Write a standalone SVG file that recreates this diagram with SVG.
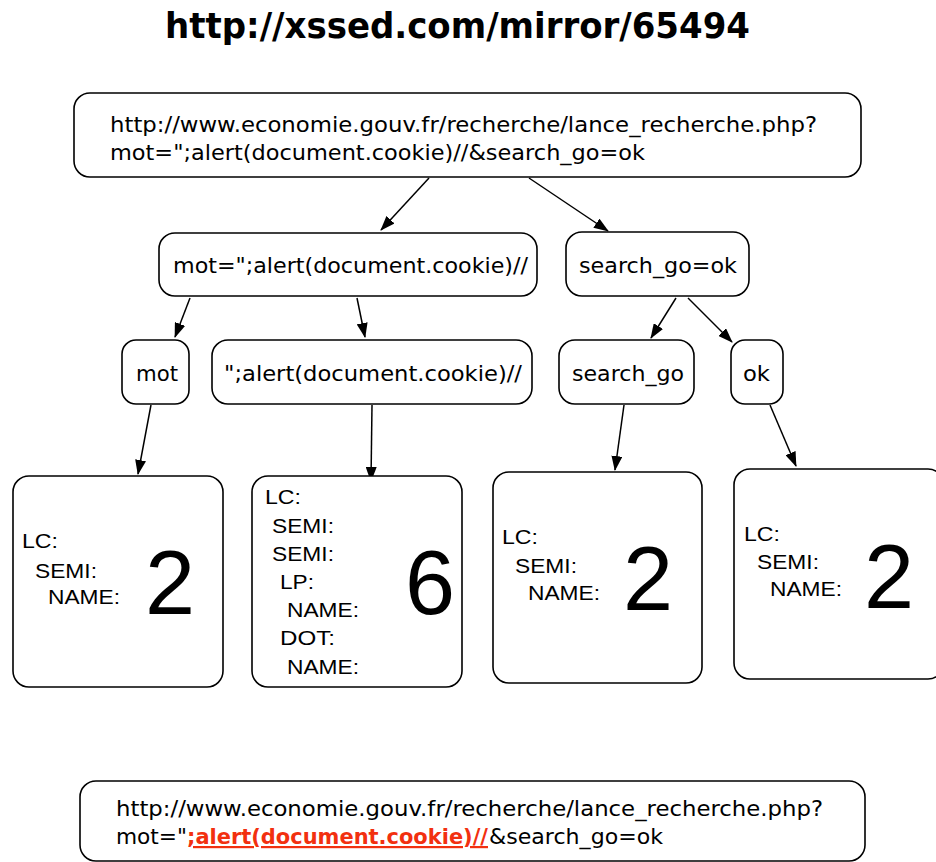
<svg xmlns="http://www.w3.org/2000/svg" width="936" height="862" viewBox="0 0 936 862">
<style>
.box{fill:#fff;stroke:#000;stroke-width:1.6}
.t{font-family:"DejaVu Sans",sans-serif;font-size:22px;fill:#000}
.l{font-family:"Liberation Sans",Arial,sans-serif;font-size:20.5px;fill:#000}
.big{font-family:"Liberation Sans",Arial,sans-serif;font-size:90px;fill:#000}
.title{font-family:"DejaVu Sans",sans-serif;font-weight:bold;font-size:35px;fill:#000}
.c line{stroke:#000;stroke-width:1.5;marker-end:url(#ah)}
.hl{font-family:"DejaVu Sans",sans-serif;font-size:22px;fill:#f2300f;font-weight:bold;text-decoration:underline}
</style>
<defs>
<marker id="ah" markerWidth="15" markerHeight="11" refX="14" refY="5.5" orient="auto" markerUnits="userSpaceOnUse">
<path d="M0,0 L15,5.5 L0,11 z" fill="#000"/>
</marker>
</defs>
<rect width="936" height="862" fill="#fff"/>
<text class="title" x="165" y="38" textLength="585" lengthAdjust="spacingAndGlyphs">http://xssed.com/mirror/65494</text>

<g class="c" id="connectors">
<line x1="429" y1="178" x2="381" y2="230"/>
<line x1="529" y1="178" x2="608" y2="231"/>
<line x1="190" y1="298" x2="175" y2="337"/>
<line x1="357" y1="298" x2="365" y2="337"/>
<line x1="676" y1="298" x2="651" y2="338"/>
<line x1="688" y1="298" x2="732" y2="342"/>
<line x1="151" y1="405" x2="138" y2="474"/>
<line x1="372" y1="405" x2="371" y2="481"/>
<line x1="624" y1="405" x2="615" y2="470"/>
<line x1="770" y1="405" x2="796" y2="466"/>
</g>

<g id="url">
<rect class="box" x="74" y="93" width="787" height="84" rx="16"/>
<text class="t" x="110" y="132" textLength="707" lengthAdjust="spacingAndGlyphs">http://www.economie.gouv.fr/recherche/lance_recherche.php?</text>
<text class="t" x="110" y="160" textLength="535" lengthAdjust="spacingAndGlyphs">mot=";alert(document.cookie)//&amp;search_go=ok</text>
</g>

<g id="param1">
<rect class="box" x="159" y="233" width="378" height="63" rx="16"/>
<text class="t" x="173" y="273" textLength="355" lengthAdjust="spacingAndGlyphs">mot=";alert(document.cookie)//</text>
</g>
<g id="param2">
<rect class="box" x="566" y="232" width="183" height="64" rx="16"/>
<text class="t" x="579" y="273" textLength="158" lengthAdjust="spacingAndGlyphs">search_go=ok</text>
</g>

<g id="mot">
<rect class="box" x="122" y="340" width="67" height="64" rx="14"/>
<text class="t" x="136" y="381" textLength="42" lengthAdjust="spacingAndGlyphs">mot</text>
</g>
<g id="val1">
<rect class="box" x="212" y="340" width="320" height="64" rx="16"/>
<text class="t" x="224" y="381" textLength="298" lengthAdjust="spacingAndGlyphs">";alert(document.cookie)//</text>
</g>
<g id="search_go">
<rect class="box" x="559" y="340" width="135" height="64" rx="16"/>
<text class="t" x="572" y="381" textLength="112" lengthAdjust="spacingAndGlyphs">search_go</text>
</g>
<g id="ok">
<rect class="box" x="731" y="340" width="52" height="64" rx="14"/>
<text class="t" x="743" y="381" textLength="27" lengthAdjust="spacingAndGlyphs">ok</text>
</g>

<g id="tok1">
<rect class="box" x="13" y="476" width="210" height="211" rx="16"/>
<text class="l" x="22" y="548" textLength="36" lengthAdjust="spacingAndGlyphs">LC:</text>
<text class="l" x="35" y="578" textLength="62" lengthAdjust="spacingAndGlyphs">SEMI:</text>
<text class="l" x="48" y="604" textLength="72" lengthAdjust="spacingAndGlyphs">NAME:</text>
<text class="big" x="145" y="614">2</text>
</g>
<g id="tok2">
<rect class="box" x="252" y="476" width="210" height="211" rx="16"/>
<text class="l" x="265" y="504" textLength="36" lengthAdjust="spacingAndGlyphs">LC:</text>
<text class="l" x="272" y="533" textLength="62" lengthAdjust="spacingAndGlyphs">SEMI:</text>
<text class="l" x="272" y="561" textLength="62" lengthAdjust="spacingAndGlyphs">SEMI:</text>
<text class="l" x="280" y="589" textLength="34" lengthAdjust="spacingAndGlyphs">LP:</text>
<text class="l" x="287" y="617" textLength="72" lengthAdjust="spacingAndGlyphs">NAME:</text>
<text class="l" x="280" y="645" textLength="55" lengthAdjust="spacingAndGlyphs">DOT:</text>
<text class="l" x="287" y="674" textLength="72" lengthAdjust="spacingAndGlyphs">NAME:</text>
<text class="big" x="405" y="614">6</text>
</g>
<g id="tok3">
<rect class="box" x="493" y="472" width="209" height="211" rx="16"/>
<text class="l" x="502" y="544" textLength="36" lengthAdjust="spacingAndGlyphs">LC:</text>
<text class="l" x="515" y="573" textLength="62" lengthAdjust="spacingAndGlyphs">SEMI:</text>
<text class="l" x="528" y="600" textLength="72" lengthAdjust="spacingAndGlyphs">NAME:</text>
<text class="big" x="623" y="610">2</text>
</g>
<g id="tok4">
<rect class="box" x="734" y="469" width="210" height="210" rx="16"/>
<text class="l" x="744" y="541" textLength="36" lengthAdjust="spacingAndGlyphs">LC:</text>
<text class="l" x="757" y="569" textLength="62" lengthAdjust="spacingAndGlyphs">SEMI:</text>
<text class="l" x="770" y="596" textLength="72" lengthAdjust="spacingAndGlyphs">NAME:</text>
<text class="big" x="864" y="608">2</text>
</g>

<g id="result">
<rect class="box" x="80" y="781" width="785" height="80" rx="16"/>
<text class="t" x="116" y="816" textLength="707" lengthAdjust="spacingAndGlyphs">http://www.economie.gouv.fr/recherche/lance_recherche.php?</text>
<text class="t" x="116" y="844" textLength="71" lengthAdjust="spacingAndGlyphs">mot="</text>
<text class="hl" x="187" y="844" textLength="301" lengthAdjust="spacingAndGlyphs">;alert(document.cookie)//</text>
<text class="t" x="489" y="844" textLength="174" lengthAdjust="spacingAndGlyphs">&amp;search_go=ok</text>
</g>
</svg>
